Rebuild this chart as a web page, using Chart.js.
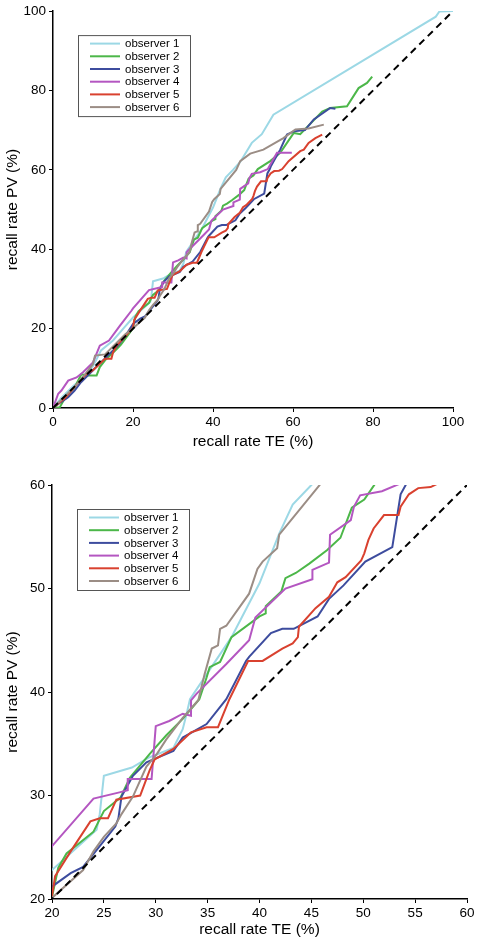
<!DOCTYPE html>
<html>
<head>
<meta charset="utf-8">
<script src="https://cdn.jsdelivr.net/npm/chart.js@4"></script>
<style>
  body { margin: 0; background: #fff; }
  .wrap { position: absolute; left: 0; }
</style>
</head>
<body>
<div class="wrap" style="top:0"><canvas id="topChart" width="478" height="460"></canvas></div>
<div class="wrap" style="top:460px"><canvas id="bottomChart" width="478" height="486"></canvas></div>
<script>
const seriesNames = ["observer 1", "observer 2", "observer 3", "observer 4", "observer 5", "observer 6"];
const seriesColors = ["#9cd8e5", "#4cb749", "#3d4c9e", "#b456c1", "#d9412f", "#9b8d85"];

// recall rate TE (x) / recall rate PV (y)
const obs1X = [0, 2, 5, 8, 10, 12, 15, 18, 20, 24.3, 24.6, 25, 27.7, 29.4, 31.7, 32.6, 33, 33.3, 34.9, 37.3, 40, 41.9, 43.2, 45, 46.8, 49.7, 52.2, 55.1, 95.7, 96.6, 100];
const obs1Y = [0, 2.5, 5.5, 8, 10.5, 14.5, 17, 20.5, 22.8, 26.7, 28.2, 31.9, 32.7, 33.7, 34.6, 36.4, 38, 39.3, 41.7, 45.3, 50.5, 55.3, 58.1, 60, 62, 66.8, 69, 73.9, 98.6, 99.9, 100];

const obs2X = [0, 1.7, 3, 5.4, 7.1, 8.4, 10.9, 11.7, 13, 15.5, 17, 19.2, 20, 20.6, 21.4, 24, 25, 26.6, 27.5, 29.4, 31, 32.6, 34.2, 34.9, 35.2, 36.2, 37.3, 40, 40.6, 40.6, 42.1, 42.5, 43.5, 44.8, 46.5, 47.8, 48.1, 48.9, 50.1, 51.2, 54.3, 56.8, 59.3, 60.2, 61.8, 67.3, 69.3, 73.5, 76.4, 78.5, 79.8];
const obs2Y = [0, 0.2, 2.5, 5.2, 8.5, 8.2, 8.2, 10.3, 12, 14.4, 16, 19, 20.2, 23, 24.4, 26.5, 28.5, 29.8, 31.7, 34, 35.8, 37.4, 39.3, 41.4, 42.4, 42.9, 45.3, 47.3, 47.6, 48.3, 49.7, 51, 51.5, 52.4, 53.7, 54.9, 55.7, 57.8, 58.6, 60.2, 62.2, 64.3, 68, 69.3, 69, 74.7, 75.6, 76, 80.6, 81.9, 83.5];

const obs3X = [0, 2, 3.8, 5.4, 7, 10, 13, 16, 18, 20, 21.8, 23, 24.6, 26.1, 26.4, 26.7, 27.8, 29.1, 31.7, 32.6, 34.9, 36.8, 38.7, 39, 41.1, 42.2, 43.3, 45.6, 46.7, 48.1, 50.2, 52.8, 53.6, 54.2, 54.5, 56.8, 58.5, 60.2, 63, 65.2, 69.3, 70.6];
const obs3Y = [0, 1.5, 2.7, 4.4, 6.5, 9.5, 12.5, 15.5, 18, 21.2, 22.5, 23.1, 25.1, 27, 27.8, 29.9, 31.9, 33.2, 34.3, 35.6, 36.9, 39.3, 43, 43.4, 45.7, 46.1, 46.1, 47.3, 49, 50.3, 52.6, 54, 59.1, 60.2, 61, 65.1, 68.9, 69.7, 70, 72.7, 75.6, 75.4];

const obs4X = [0, 1.3, 2.1, 3.8, 5.9, 7.5, 10, 11.7, 14, 16.7, 19.6, 20, 24, 26.5, 27.3, 27.3, 29.6, 30, 31.3, 32.6, 33.4, 33.4, 33.9, 36.8, 39, 39.6, 42.5, 45.1, 45.1, 46.7, 46.8, 48.8, 49.1, 49.7, 51.8, 53.7, 56, 59.7];
const obs4Y = [0, 3.6, 4.4, 6.9, 7.7, 9, 11.5, 15.7, 17, 20.7, 24.5, 25.1, 29.7, 30.3, 30.5, 31.6, 31.6, 36.7, 37.2, 37.9, 37.7, 39.2, 39.8, 42.7, 45, 47.2, 50, 50.9, 51.8, 52.5, 55.2, 56.6, 57.9, 59, 59.4, 60.2, 64.3, 64.3];

const obs5X = [0, 3, 6, 8.4, 10, 13, 14.6, 15, 15.9, 18, 20, 20.3, 21.8, 23.7, 24.6, 25.4, 26.2, 28.5, 29.4, 29.9, 31.7, 33.4, 34.9, 36, 37.1, 38.9, 40.3, 42.2, 43.2, 43.7, 43.8, 45.4, 46.7, 47.5, 48.3, 49.8, 50.1, 50.5, 51, 52, 53.4, 53.6, 54.4, 55.3, 56.5, 57.3, 58.9, 61.8, 62.7, 63.9, 65.6, 67.3];
const obs5Y = [0, 2.5, 6, 8.6, 9.5, 12.4, 12.4, 14, 15.7, 18, 20.3, 22.2, 24.6, 27.5, 27.8, 27.8, 29.6, 30, 32.4, 33.5, 34.5, 36.1, 36.6, 36.6, 39.3, 43, 43, 44.2, 44.7, 45.3, 46.3, 48.1, 49.2, 50.6, 51.1, 52.7, 53.4, 54.7, 55.8, 57.1, 57.1, 57.9, 59.1, 59.7, 59.8, 60.2, 62.2, 64.7, 65.1, 66.8, 68, 68.9];

const obs6X = [0, 3, 6, 8, 10, 10.5, 13, 15, 18, 20, 23, 24, 25, 26.2, 26.7, 27.8, 29.1, 30.1, 31, 32.6, 34.1, 34.7, 35.4, 36, 36.2, 36.8, 39, 39.8, 40.3, 41.7, 41.9, 45.8, 46.8, 49.3, 52.6, 57.6, 60.6, 63.9, 67.7];
const obs6Y = [0, 3, 6, 8.5, 11.1, 13.2, 13.5, 15.5, 18.5, 20.1, 22.8, 24.6, 26, 27.3, 28.2, 29.9, 32.8, 34, 35.4, 37.5, 39.2, 41.7, 44.2, 44.5, 46.1, 46.4, 49.5, 51.9, 52.6, 53.9, 55.2, 60, 62.2, 64.1, 65.1, 68, 70.2, 70.4, 71.4];

const identityX = [0, 100];
const identityY = [0, 100];

const allX = [obs1X, obs2X, obs3X, obs4X, obs5X, obs6X];
const allY = [obs1Y, obs2Y, obs3Y, obs4Y, obs5Y, obs6Y];

Chart.defaults.font.family = "'Liberation Sans', Arial, Helvetica, sans-serif";
Chart.defaults.color = "#000";

function toPoints(xs, ys) {
    return xs.map((x, i) => ({ x: x, y: ys[i] }));
}

function buildDatasets() {
    const sets = allX.map((xs, i) => ({
        label: seriesNames[i],
        data: toPoints(xs, allY[i]),
        borderColor: seriesColors[i],
        borderWidth: 2,
        showLine: true,
        pointRadius: 0,
        tension: 0,
        order: 6 - i
    }));
    sets.push({
        label: "identity",
        data: toPoints(identityX, identityY),
        borderColor: "#000",
        borderWidth: 2,
        borderDash: [7, 5],
        showLine: true,
        pointRadius: 0,
        order: -1
    });
    return sets;
}

// legend box drawn inside the plot area, top-left
const boxLegend = {
    id: "boxLegend",
    afterDraw(chart) {
        const ctx = chart.ctx;
        const area = chart.chartArea;
        const left = area.left + 25;
        const top = area.top + 24;
        ctx.save();
        ctx.fillStyle = "#fff";
        ctx.fillRect(left, top, 112, 81);
        ctx.strokeStyle = "#555";
        ctx.lineWidth = 1;
        ctx.strokeRect(left + 0.5, top + 0.5, 112, 81);
        ctx.font = "11.5px 'Liberation Sans', Arial, sans-serif";
        ctx.textBaseline = "middle";
        seriesNames.forEach((name, i) => {
            const y = top + 8.5 + i * 12.7;
            ctx.strokeStyle = seriesColors[i];
            ctx.lineWidth = 2;
            ctx.beginPath();
            ctx.moveTo(left + 12, y);
            ctx.lineTo(left + 42, y);
            ctx.stroke();
            ctx.fillStyle = "#000";
            ctx.fillText(name, left + 47, y + 0.5);
        });
        ctx.restore();
    }
};

function makeChart(id, cfg) {
    const ctx = document.getElementById(id).getContext("2d");
    return new Chart(ctx, {
        type: "scatter",
        data: { datasets: buildDatasets() },
        plugins: [boxLegend],
        options: {
            responsive: false,
            animation: false,
            devicePixelRatio: 1,
            layout: { padding: cfg.padding },
            plugins: { legend: { display: false }, tooltip: { enabled: false } },
            scales: {
                x: {
                    type: "linear",
                    min: cfg.min,
                    max: cfg.max,
                    afterFit: (scale) => { scale.height = cfg.xHeight; },
                    border: { color: "#000", width: 1.5 },
                    grid: { drawOnChartArea: false, tickLength: 4, color: "#000", lineWidth: 1 },
                    ticks: { stepSize: cfg.xStep, padding: 2, font: { size: 13.5 }, maxRotation: 0 },
                    title: {
                        display: true,
                        text: "recall rate TE (%)",
                        font: { size: 15.5 },
                        padding: { top: 0, bottom: cfg.xTitlePad }
                    }
                },
                y: {
                    type: "linear",
                    min: cfg.min,
                    max: cfg.max,
                    afterFit: (scale) => { scale.width = cfg.yWidth; },
                    border: { color: "#000", width: 1.5 },
                    grid: { drawOnChartArea: false, tickLength: 4, color: "#000", lineWidth: 1 },
                    ticks: { stepSize: cfg.yStep, padding: 3, font: { size: 13.5 } },
                    title: {
                        display: true,
                        text: "recall rate PV (%)",
                        font: { size: 15.5 },
                        padding: { top: 3, bottom: 0 }
                    }
                }
            }
        }
    });
}

makeChart("topChart", {
    min: 0, max: 100, xStep: 20, yStep: 20,
    padding: { left: 0, right: 25, top: 9, bottom: 0 },
    xHeight: 52, yWidth: 53, xTitlePad: 9
});

makeChart("bottomChart", {
    min: 20, max: 60, xStep: 5, yStep: 10,
    padding: { left: 0, right: 11, top: 25, bottom: 0 },
    xHeight: 47, yWidth: 52, xTitlePad: 7
});
</script>
</body>
</html>
